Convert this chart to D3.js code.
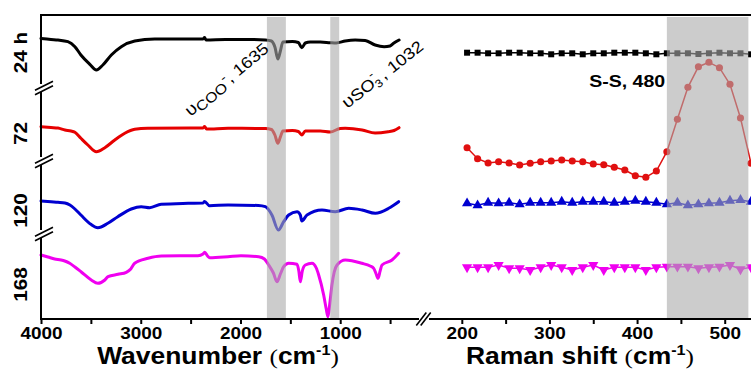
<!DOCTYPE html>
<html><head><meta charset="utf-8">
<script src="https://cdn.jsdelivr.net/npm/d3@7"></script>
<style>body{margin:0;background:#fff}svg{display:block}</style>
</head><body><svg id="c" width="751" height="381"></svg>
<script>
// ---------------- DATA ----------------
// FTIR spectra (wavenumber cm-1, stacked intensity a.u.)
const ir24h = [[4000,280.5],[3900,279.5],[3830,279],[3730,277.3],[3660,272.3],[3600,264],[3510,254.7],[3445,249],[3380,254],[3295,264],[3195,272.3],[3060,278],[2860,280],[2500,280],[2375,280],[2360,281.5],[2345,279],[2150,279.5],[1900,279.5],[1750,279],[1690,278],[1655,272],[1625,260],[1600,268],[1575,277],[1480,277.5],[1420,276.5],[1385,271.3],[1350,276],[1300,277],[1200,277],[1100,276.3],[1040,276],[950,278],[850,279],[750,278.5],[650,274],[560,272.3],[500,273],[465,275.7],[410,279]];
const ir72h = [[4000,192.3],[3900,191.5],[3830,191],[3760,189],[3700,188],[3660,186.7],[3600,180.7],[3530,174],[3445,167.3],[3360,171.3],[3260,179],[3160,185.7],[3060,189.7],[2930,190.7],[2500,191],[2375,191],[2360,192.5],[2340,190],[2125,190.7],[1750,190.5],[1690,189.5],[1655,184],[1625,175.7],[1600,182],[1575,188],[1480,188.5],[1420,187.5],[1385,184],[1350,188],[1200,188],[1100,187],[1000,190.5],[950,190.7],[780,189],[650,186],[520,187.3],[460,188.5],[410,191.3]];
const ir120h = [[4000,118],[3900,117.2],[3830,116.7],[3760,116],[3710,114],[3660,110],[3600,104],[3500,94.7],[3430,91.3],[3330,95.7],[3230,102.3],[3095,110],[2995,112.3],[2910,111.3],[2795,114.7],[2525,115.7],[2375,116],[2360,117.5],[2310,113.3],[2125,114],[1820,113.5],[1750,112.3],[1685,104],[1620,89],[1567,97.3],[1517,104],[1433,107.3],[1400,104],[1385,98],[1333,104],[1183,109],[1049,107.3],[915,110.7],[782,109],[648,105.7],[514,110.7],[414,117.3]];
const ir168h = [[4000,64],[3930,62],[3863,60],[3800,59],[3762,58],[3712,55.7],[3660,52],[3596,47],[3496,39],[3430,35.7],[3360,39],[3328,42.3],[3228,44.7],[3145,46.7],[3100,50],[3061,55.7],[2927,60.7],[2794,63],[2426,63.3],[2375,65],[2359,66.7],[2330,63],[2309,61.3],[2125,62.3],[1995,63.3],[1817,62.3],[1760,60],[1717,54],[1670,46],[1634,37.3],[1600,45],[1567,52.3],[1517,55.7],[1433,54.7],[1415,48],[1400,37.3],[1380,48],[1350,54],[1283,55.7],[1240,51],[1216,44],[1166,24],[1140,10],[1123,2.3],[1105,15],[1083,34],[1060,47],[1032,54],[949,59],[782,55.7],[700,53],[664,50.7],[640,45],[621,40.7],[600,48],[581,54],[481,59],[414,65.7]];

// Raman spectra
const ramanShift = [206,218,230,242,254,266,278,290,302,314,326,338,350,362,374,386,398,410,422,434,446,458,470,482,494,506,518,530];
const raman24h  = [266.3,266.3,265.7,265.7,266.3,266.3,265.7,265.7,264.7,265.7,265.7,264.7,265.7,265.7,266.3,266.3,266.3,265.7,264.7,265.7,265.7,265.7,265,265.7,266.3,265.7,265.7,264.7];
const raman72h  = [171.3,160.3,156,157.3,156,154,155.7,157.3,158,159,158,157.3,155,154.3,151.7,149,143.3,141.7,148,167.3,199.7,231.7,252.3,256.7,251.3,234.7,201,155.7];
const raman120h = [115.7,113.7,116.3,115.7,116.3,114.7,116.3,116.3,116.3,117.3,116.3,117.3,117.3,117.3,116.3,117.3,118.3,117.3,116.3,114.7,116.3,113.7,114.7,115.7,116.3,118.3,119,117.3];
const raman168h = [51.7,51.7,51.7,54,50.7,50.7,49,51.7,54,51.7,49,51.7,54,49,51.7,51.7,51.7,49,51.7,52.3,52.3,52.3,50.7,51.7,52.3,54,49.7,51.7];

// axes / labels
const irTicks = [4000,3500,3000,2500,2000,1500,1000,500];
const irTickLabels = [4000,3000,2000,1000];
const ramanTicks = [200,250,300,350,400,450,500];
const ramanTickLabels = [200,300,400,500];
const timeLabels = ["24 h","72","120","168"];
const timeLabelValues = [267,186,109,35];
const yBreakValues = [231,158,85];
const irBands = [[1735,1545],[1100,1010]];
const ramanBand = [434,527];

// ---------------- DRAW ----------------
const svg = d3.select("#c");
const FONT = "'Liberation Sans', Arial, sans-serif";
const SX = 1.15;
const xL = d3.scaleLinear().domain([4000,150]).range([41,425]);
const xR = d3.scaleLinear().domain([158,530]).range([425,751]);
const y = d3.scaleLinear().domain([0,304]).range([319,15]);

const colors = {"24":"#000000","72":"#e60000","120":"#0000d0","168":"#f000f0"};

// IR lines
const irLine = d3.line().x(d=>xL(d[0])).y(d=>y(d[1])).curve(d3.curveMonotoneX);
[[ir24h,colors["24"]],[ir72h,colors["72"]],[ir120h,colors["120"]],[ir168h,colors["168"]]].forEach(([s,c])=>{
  svg.append("path").datum(s).attr("d",irLine).attr("fill","none").attr("stroke",c)
    .attr("stroke-width",3).attr("stroke-linejoin","round").attr("stroke-linecap","round");
});

// Raman series
const rLine = d3.line().x((d,i)=>xR(ramanShift[i])).y(d=>y(d));
function ramanSeries(vals,color,sym,size,rot){
  svg.append("path").datum(vals).attr("d",rLine).attr("fill","none").attr("stroke",color).attr("stroke-width",1.5);
  svg.append("g").selectAll("path").data(vals).join("path")
    .attr("d",d3.symbol(sym,size))
    .attr("transform",(d,i)=>`translate(${xR(ramanShift[i])},${y(d)}) rotate(${rot})`)
    .attr("fill",color);
}
ramanSeries(raman24h,"#000000",d3.symbolSquare,36,0);
ramanSeries(raman72h,"#e01010",d3.symbolCircle,40,0);
ramanSeries(raman120h,"#0000d0",d3.symbolTriangle,45,0);
ramanSeries(raman168h,"#f000f0",d3.symbolTriangle,45,180);

// gray bands (over curves)
irBands.forEach(b=>{
  svg.append("rect").attr("x",xL(b[0])).attr("width",xL(b[1])-xL(b[0]))
    .attr("y",17).attr("height",319-17).attr("fill","#aaaaaa").attr("opacity",0.6);
});
svg.append("rect").attr("x",xR(ramanBand[0])).attr("width",xR(ramanBand[1])-xR(ramanBand[0]))
  .attr("y",17).attr("height",319-17).attr("fill","#aaaaaa").attr("opacity",0.6);

// frame lines
svg.append("line").attr("x1",41).attr("x2",751).attr("y1",15).attr("y2",15).attr("stroke","#000").attr("stroke-width",2);
svg.append("line").attr("x1",41).attr("x2",41).attr("y1",14).attr("y2",320).attr("stroke","#000").attr("stroke-width",2);
svg.append("line").attr("x1",40).attr("x2",751).attr("y1",319).attr("y2",319).attr("stroke","#000").attr("stroke-width",2);

// bottom axes
function styleAxis(g){
  g.select(".domain").remove();
  g.selectAll(".tick line").attr("stroke","#000").attr("stroke-width",2);
  g.selectAll(".tick text").attr("fill","#000").attr("font-family",FONT).attr("font-weight","bold")
    .attr("font-size",16.5).attr("y",8).attr("transform",`scale(${SX},1)`);
}
svg.append("g").attr("transform","translate(0,319)")
  .call(d3.axisBottom(xL).tickValues(irTicks).tickSize(5).tickSizeOuter(0)
    .tickFormat(d=>irTickLabels.includes(d)?d:""))
  .call(styleAxis);
svg.append("g").attr("transform","translate(0,319)")
  .call(d3.axisBottom(xR).tickValues(ramanTicks).tickSize(5).tickSizeOuter(0)
    .tickFormat(d=>ramanTickLabels.includes(d)?d:""))
  .call(styleAxis);

// left axis: time labels
const ya = svg.append("g").attr("transform","translate(41,0)")
  .call(d3.axisLeft(y).tickValues(timeLabelValues).tickSize(0).tickFormat((d,i)=>timeLabels[i]));
ya.select(".domain").remove();
ya.selectAll(".tick text").attr("x",0).attr("dy",0).attr("fill","#000")
  .attr("font-family",FONT).attr("font-weight","bold").attr("font-size",18)
  .attr("text-anchor","middle").attr("dominant-baseline","central")
  .attr("transform",`translate(-20,0) rotate(-90) scale(${SX},1)`);

// break marks
function breakMark(cx,cy,dx,dy,gx,gy){
  [-1,1].forEach(s=>{
    svg.append("line").attr("x1",cx-dx+s*gx).attr("y1",cy+dy+s*gy).attr("x2",cx+dx+s*gx).attr("y2",cy-dy+s*gy)
      .attr("stroke","#000").attr("stroke-width",1.6);
  });
}
yBreakValues.forEach(v=>{
  svg.append("rect").attr("x",36).attr("y",y(v)-4).attr("width",10).attr("height",8).attr("fill","#fff");
  breakMark(44,y(v),9,4.5,0,2.2);
});
svg.append("rect").attr("x",419).attr("y",315).attr("width",10).attr("height",8).attr("fill","#fff");
breakMark(423.5,319,5,6.5,2.2,0);

// axis titles
function axisTitle(cx,label){
  const t = svg.append("text").attr("text-anchor","middle").attr("font-family",FONT).attr("fill","#000")
    .attr("transform",`translate(${cx},364) scale(${SX},1)`);
  t.append("tspan").attr("font-weight","bold").attr("font-size",23).text(label+" ");
  t.append("tspan").attr("font-family","'Liberation Serif', 'Times New Roman', serif").attr("font-size",22).text("(");
  t.append("tspan").attr("font-weight","bold").attr("font-size",23).text("cm");
  t.append("tspan").attr("font-weight","bold").attr("font-size",14).attr("dy",-9).text("-1");
  t.append("tspan").attr("font-family","'Liberation Serif', 'Times New Roman', serif").attr("font-size",22).attr("dy",9).text(")");
}
axisTitle(218,"Wavenumber");
axisTitle(580,"Raman shift");

// annotations
const a1 = svg.append("text").attr("font-family",FONT).attr("font-size",16).attr("fill","#000")
  .attr("transform",`translate(${xL(2500)},${y(202)}) rotate(-40) scale(${SX},1)`);
a1.append("tspan").attr("font-size",17).text("υ");
a1.append("tspan").attr("font-size",14).attr("dy",3).text("COO");
a1.append("tspan").attr("font-size",13).attr("dy",-8).text("-");
a1.append("tspan").attr("dy",5).text(", 1635");

const a2 = svg.append("text").attr("font-family",FONT).attr("font-size",16).attr("fill","#000")
  .attr("transform",`translate(${xL(930)},${y(210)}) rotate(-38) scale(${SX},1)`);
a2.append("tspan").attr("font-size",17).text("υ");
a2.append("tspan").text("SO");
a2.append("tspan").attr("font-size",11).attr("dy",3).text("3");
a2.append("tspan").attr("font-size",12).attr("dx",-6).attr("dy",-12).text("-");
a2.append("tspan").attr("dy",9).text(" , 1032");

svg.append("text").attr("font-family",FONT).attr("font-weight","bold").attr("font-size",17)
  .attr("text-anchor","end").attr("fill","#000")
  .attr("transform",`translate(${xR(432)},${y(232)}) scale(${SX},1)`).text("S-S, 480");
</script></body></html>
